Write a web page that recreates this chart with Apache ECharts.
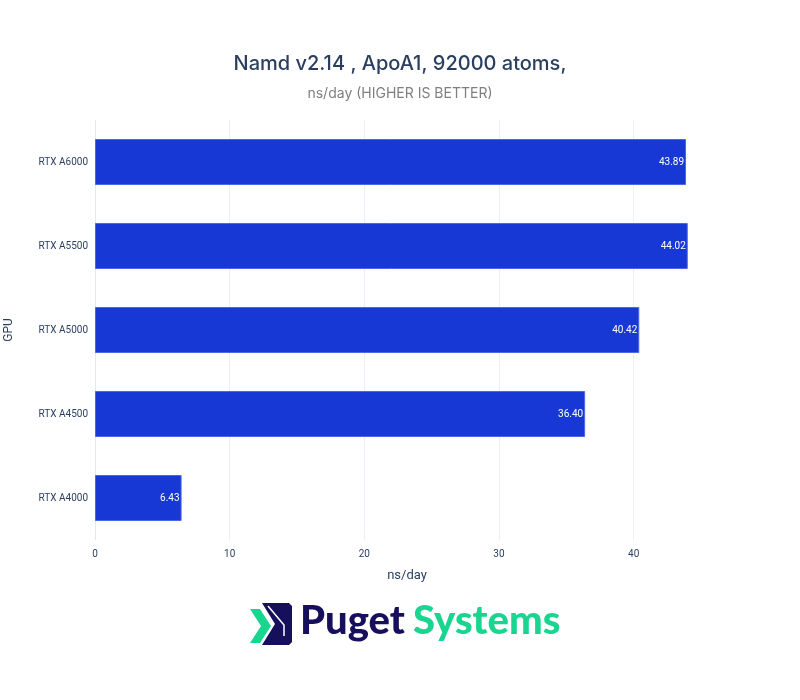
<!DOCTYPE html>
<html>
<head>
<meta charset="utf-8">
<script src="https://cdn.jsdelivr.net/npm/echarts@6/dist/echarts.min.js"></script>
<style>
  html, body { margin: 0; padding: 0; background: #fff; }
  #chart { width: 800px; height: 700px; }
</style>
</head>
<body>
<div id="chart"></div>
<script>
// GPU names, top to bottom as drawn
var gpus = ['RTX A6000', 'RTX A5500', 'RTX A5000', 'RTX A4500', 'RTX A4000'];
// ns/day
var nsPerDay = [43.89, 44.02, 40.42, 36.40, 6.43];
var xTicks = [0, 10, 20, 30, 40];

(function() {
    var myChart = echarts.init(document.getElementById('chart'));
    var font = 'Roboto, "Open Sans", sans-serif';
    var option = {
        animation: false,
        title: [
          {
            text: 'Namd v2.14 , ApoA1, 92000 atoms,',
            left: 'center',
            top: 49,
            textStyle: { color: '#2a3f5f', fontSize: 20, fontWeight: 500, fontFamily: 'Inter, "Open Sans", sans-serif' }
          },
          {
            text: 'ns/day (HIGHER IS BETTER)',
            left: 'center',
            top: 82,
            textStyle: { color: '#7f7f7f', fontSize: 14, fontWeight: 'normal', fontFamily: 'Inter, "Open Sans", sans-serif' }
          }
        ],
        grid: { left: 95, right: 81, top: 120, bottom: 160, outerBoundsMode: 'none' },
        xAxis: {
          type: 'value',
          min: 0,
          max: 46.34,
          interval: 10,
          name: 'ns/day',
          nameLocation: 'middle',
          nameGap: 29,
          nameTextStyle: { color: '#2a3f5f', fontSize: 13, fontFamily: font },
          axisLine: { show: false },
          axisTick: { show: false },
          axisLabel: {
            color: '#2a3f5f', fontSize: 10, fontFamily: font, margin: 9,
            showMaxLabel: false,
            formatter: function(v) { return xTicks.indexOf(v) >= 0 ? String(v) : ''; }
          },
          splitLine: {
            show: true,
            lineStyle: {
              color: ['#e3e8f3', '#ebf0f8', '#ebf0f8', '#ebf0f8', '#ebf0f8', 'rgba(0,0,0,0)'],
              width: 1
            }
          }
        },
        yAxis: {
          type: 'category',
          data: gpus,
          inverse: true,
          name: 'GPU',
          nameLocation: 'middle',
          nameGap: 80,
          nameRotate: 90,
          nameTextStyle: { color: '#2a3f5f', fontSize: 12, fontFamily: font },
          axisLine: { show: false },
          axisTick: { show: false },
          axisLabel: { color: '#2a3f5f', fontSize: 10, fontFamily: font, margin: 7 },
          splitLine: { show: false }
        },
        series: [
          {
            type: 'bar',
            data: nsPerDay,
            barWidth: 46,
            itemStyle: { color: '#1738d4', borderColor: '#4a68e6', borderWidth: 1 },
            label: {
              show: true,
              position: 'insideRight',
              distance: 2,
              color: '#ffffff',
              fontSize: 10,
              fontFamily: font,
              formatter: function(p) { return p.value.toFixed(2); }
            }
          }
        ],
        graphic: [
          // logo icon
          {
            type: 'polygon',
            shape: { points: [[262, 603], [289, 603], [292, 606], [292, 642], [289, 645], [262, 645], [275, 624]] },
            style: { fill: '#16105c' }
          },
          {
            type: 'polygon',
            shape: { points: [[250, 609], [260, 609], [271, 626], [260, 643], [250, 643], [261, 626]] },
            style: { fill: '#1ad590' }
          },
          {
            type: 'polyline',
            shape: { points: [[268, 606], [284, 625], [284, 636]] },
            style: { stroke: '#ffffff', lineWidth: 1.5, fill: null }
          },
          {
            type: 'text',
            left: 300,
            top: 601,
            style: { text: 'Puget', fill: '#16105c', font: '900 40px Lato, "Open Sans", sans-serif' }
          },
          {
            type: 'text',
            left: 413,
            top: 601,
            style: { text: 'Systems', fill: '#1ad590', font: '900 40px Lato, "Open Sans", sans-serif' }
          }
        ]
    };
    myChart.setOption(option);
})();
</script>
</body>
</html>
